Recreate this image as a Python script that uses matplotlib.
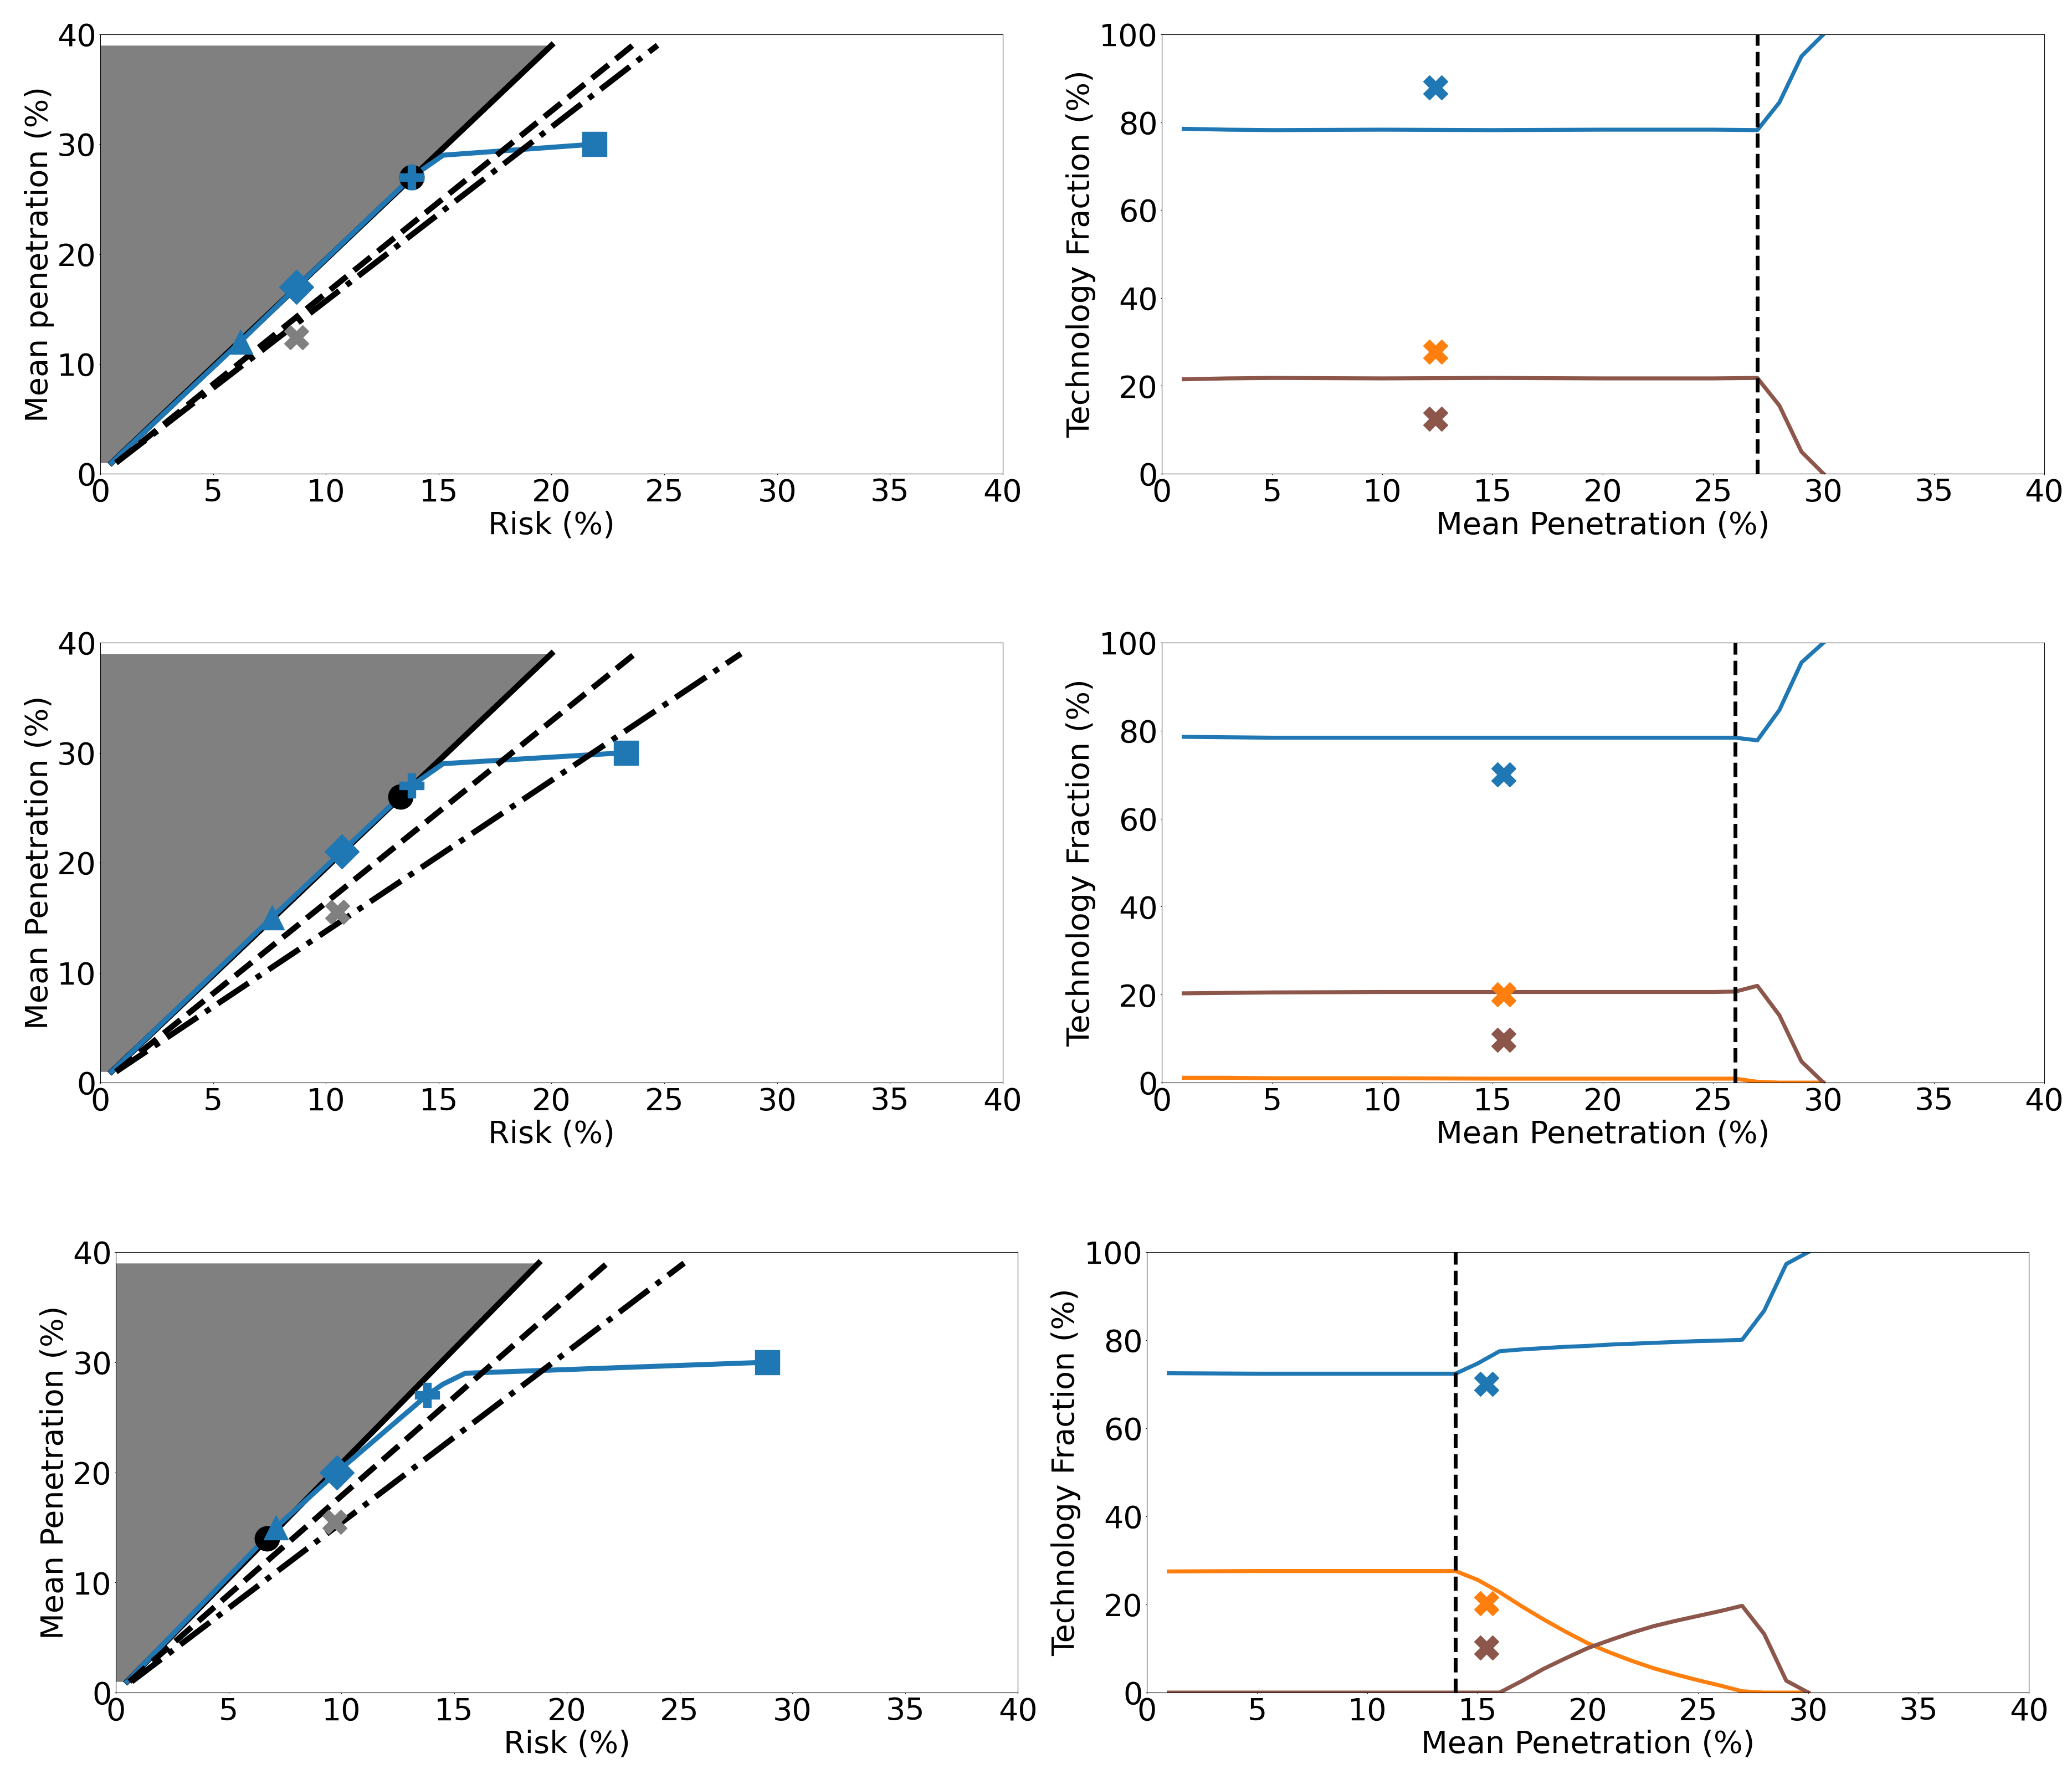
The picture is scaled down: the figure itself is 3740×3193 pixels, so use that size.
import matplotlib
matplotlib.use("Agg")
import matplotlib.pyplot as plt

plt.rcParams["font.size"] = 40
plt.rcParams["xtick.major.size"] = 1.7
plt.rcParams["ytick.major.size"] = 1.7

# ---------------- left column: mean penetration vs risk ----------------
frontier_pen = [1, 39]
frontier_risk = [[0.5, 20.0], [0.5, 20.0], [0.5, 18.75]]
dashed_risk = [[0.7, 23.6], [0.7, 23.7], [0.6, 21.8]]
dashdot_risk = [[0.7, 24.7], [0.7, 28.4], [0.7, 25.2]]

path_risk = [
    [0.5, 6.2, 8.7, 13.8, 15.2, 21.9],
    [0.5, 7.6, 10.7, 13.3, 13.8, 15.2, 23.3],
    [0.5, 7.1, 9.8, 13.8, 14.5, 15.5, 28.9],
]
path_pen = [
    [1, 12, 17, 27, 29, 30],
    [1, 15, 21, 26, 27, 29, 30],
    [1, 15, 20, 27, 28, 29, 30],
]

tri_pts = [(6.2, 12), (7.6, 15), (7.1, 15)]
dia_pts = [(8.7, 17), (10.7, 21), (9.8, 20)]
plus_pts = [(13.8, 27), (13.8, 27), (13.8, 27)]
sq_pts = [(21.9, 30), (23.3, 30), (28.9, 30)]
circle_pts = [(13.8, 27), (13.3, 26), (6.7, 14)]
grey_x_pts = [(8.7, 12.4), (10.5, 15.5), (9.7, 15.5)]

left_ylabels = ["Mean penetration (%)", "Mean Penetration (%)", "Mean Penetration (%)"]

# ---------------- right column: technology fractions ----------------
mix_pen_top = [1, 3, 5, 10, 15, 20, 25, 27, 28, 29, 30]
mix_blue_top = [78.5, 78.3, 78.2, 78.3, 78.2, 78.3, 78.3, 78.2, 84.5, 95.0, 100]
mix_brown_top = [21.5, 21.7, 21.8, 21.7, 21.8, 21.7, 21.7, 21.8, 15.5, 5.0, 0]

mix_pen_mid = [1, 3, 5, 10, 15, 20, 25, 26, 27, 28, 29, 30]
mix_blue_mid = [78.6, 78.5, 78.4, 78.4, 78.4, 78.4, 78.4, 78.4, 77.8, 84.7, 95.5, 100]
mix_brown_mid = [20.3, 20.4, 20.5, 20.6, 20.6, 20.6, 20.6, 20.7, 22.0, 15.3, 4.8, 0]
mix_orange_mid = [1.1, 1.1, 1.0, 1.0, 0.9, 0.9, 0.9, 0.9, 0.2, 0.0, 0.0, 0.0]

mix_pen_bot = [1, 5, 10, 14, 15, 16, 17, 18, 19, 20, 21, 22, 23, 24, 25, 26, 27, 28, 29, 30]
mix_blue_bot = [72.5, 72.4, 72.4, 72.4, 74.7, 77.5, 77.9, 78.2, 78.5, 78.7, 79.0, 79.2,
                79.4, 79.6, 79.8, 79.9, 80.1, 86.7, 97.3, 100]
mix_orange_bot = [27.5, 27.6, 27.6, 27.6, 25.6, 22.8, 19.6, 16.6, 13.8, 11.2, 9.1, 7.2,
                  5.5, 4.1, 2.8, 1.6, 0.3, 0, 0, 0]
mix_brown_bot = [0, 0, 0, 0, 0, 0, 2.6, 5.4, 7.8, 10.1, 11.9, 13.6, 15.1, 16.3, 17.4,
                 18.5, 19.7, 13.3, 2.7, 0]

mix_x_pen = [12.4, 15.5, 15.4]
mix_x_blue = [87.9, 70.0, 70.1]
mix_x_orange = [27.8, 20.0, 20.3]
mix_x_brown = [12.5, 9.7, 10.2]
vline_pen = [27, 26, 14]

BLUE = "tab:blue"
ORANGE = "tab:orange"
BROWN = "tab:brown"

# axes rectangles (left, bottom, width, height) in figure fractions
left_rects = [
    [0.0484, 0.7322, 0.4354, 0.2484],
    [0.0484, 0.3880, 0.4354, 0.2487],
    [0.0559, 0.0432, 0.4352, 0.2490],
]
right_rects = [
    [0.5605, 0.7322, 0.4258, 0.2484],
    [0.5605, 0.3880, 0.4258, 0.2487],
    [0.5533, 0.0432, 0.4256, 0.2490],
]

fig = plt.figure(figsize=(37.41, 31.93), dpi=100)


def draw_left(ax, i):
    ax.fill_betweenx(frontier_pen, 0, frontier_risk[i], color="gray", lw=0, zorder=1)
    ax.plot(frontier_risk[i], frontier_pen, color="black", lw=7.5, zorder=2)
    ax.plot(path_risk[i], path_pen[i], color=BLUE, lw=6.5, zorder=3)
    ax.plot(dashed_risk[i], frontier_pen, color="black", lw=7.5, ls="--", zorder=4)
    ax.plot(dashdot_risk[i], frontier_pen, color="black", lw=7.5, ls="-.", zorder=4)
    ax.plot(*circle_pts[i], marker="o", ms=32, color="black", zorder=5)
    ax.plot(*tri_pts[i], marker="^", ms=32, color=BLUE, zorder=6)
    ax.plot(*dia_pts[i], marker="D", ms=32, color=BLUE, zorder=6)
    ax.plot(*plus_pts[i], marker="P", ms=32, color=BLUE, zorder=6)
    ax.plot(*sq_pts[i], marker="s", ms=32, color=BLUE, zorder=6)
    ax.plot(*grey_x_pts[i], marker="X", ms=32, color="gray", zorder=6)
    ax.set_xlim(0, 40)
    ax.set_ylim(0, 40)
    ax.set_xticks(range(0, 41, 5))
    ax.set_yticks(range(0, 41, 10))
    ax.set_xlabel("Risk (%)")
    ax.set_ylabel(left_ylabels[i])


def draw_right(ax, i):
    lw = 5.2
    if i == 0:
        ax.plot(mix_pen_top, mix_blue_top, color=BLUE, lw=lw)
        ax.plot(mix_pen_top, mix_brown_top, color=BROWN, lw=lw)
    elif i == 1:
        ax.plot(mix_pen_mid, mix_blue_mid, color=BLUE, lw=lw)
        ax.plot(mix_pen_mid, mix_orange_mid, color=ORANGE, lw=lw)
        ax.plot(mix_pen_mid, mix_brown_mid, color=BROWN, lw=lw)
    else:
        ax.plot(mix_pen_bot, mix_blue_bot, color=BLUE, lw=lw)
        ax.plot(mix_pen_bot, mix_orange_bot, color=ORANGE, lw=lw)
        ax.plot(mix_pen_bot, mix_brown_bot, color=BROWN, lw=lw)
    ax.axvline(vline_pen[i], color="black", lw=5, ls="--")
    ax.plot(mix_x_pen[i], mix_x_blue[i], marker="X", ms=32, color=BLUE)
    ax.plot(mix_x_pen[i], mix_x_orange[i], marker="X", ms=32, color=ORANGE)
    ax.plot(mix_x_pen[i], mix_x_brown[i], marker="X", ms=32, color=BROWN)
    ax.set_xlim(0, 40)
    ax.set_ylim(0, 100)
    ax.set_xticks(range(0, 41, 5))
    ax.set_yticks(range(0, 101, 20))
    ax.set_xlabel("Mean Penetration (%)")
    ax.set_ylabel("Technology Fraction (%)")


for i in range(3):
    draw_left(fig.add_axes(left_rects[i]), i)
    draw_right(fig.add_axes(right_rects[i]), i)

fig.savefig("out.png", dpi=100)
